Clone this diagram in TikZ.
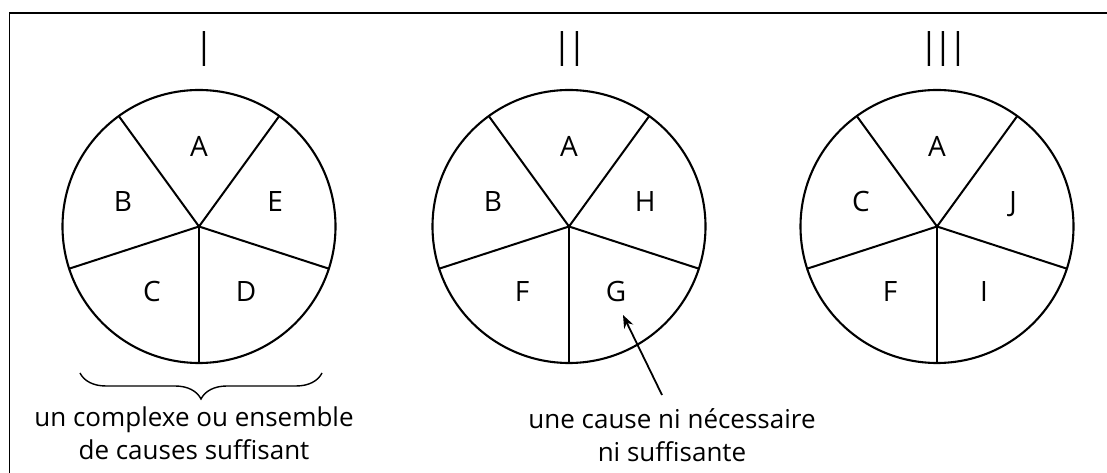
\documentclass[tikz,border=0pt]{standalone}
\usepackage{fontspec}
\setmainfont{Open Sans}
\newfontfamily\numfont[LetterSpace=24]{Open Sans}
\usetikzlibrary{arrows.meta,decorations.pathreplacing}
\begin{document}
\begin{tikzpicture}[x=1pt,y=1pt,
  rim/.style={line width=2.1pt},
  spoke/.style={line width=2pt},
  lab/.style={inner sep=0pt,text height=20pt,text depth=0pt,font=\fontsize{28}{32}\selectfont},
  numlab/.style={inner sep=0pt,font=\numfont\fontsize{28}{32}\selectfont},
  captext/.style={inner sep=0pt,align=center,anchor=base,font=\fontsize{26}{33}\selectfont}
]
\useasboundingbox (0,0) rectangle (1107,473);
\coordinate (f0) at (9.5,0);
\coordinate (f1) at (9.5,460);
\coordinate (f2) at (1107,460);
\draw[line width=1.5pt] (f0) -- (f1) -- (f2);

\foreach \n/\cx/\la/\lb/\lc/\ld/\le in {1/199/A/B/C/D/E, 2/569/A/B/F/G/H, 3/937/A/C/F/I/J}{
  \coordinate (c\n) at (\cx,246.5);
  \draw[rim] (c\n) circle[radius=136.5];
  \foreach \a in {54,126,198,270,342}{
    \draw[spoke] (c\n) -- ++(\a:136.5);
  }
  \node[lab] (l\n a) at ([shift={(90:80)}]c\n) {\la};
  \node[lab] (l\n b) at ([shift={(162:80)}]c\n) {\lb};
  \node[lab] (l\n c) at ([shift={(234:80)}]c\n) {\lc};
  \node[lab] (l\n d) at ([shift={(306:80)}]c\n) {\ld};
  \node[lab] (l\n e) at ([shift={(18:80)}]c\n) {\le};
}

\node[numlab] (n1) at (204,423.5) {\scalebox{1}[1.75]{I}};
\node[numlab] (n2) at (570,423.5) {\scalebox{1}[1.75]{II}};
\node[numlab] (n3) at (943.5,423.5) {\scalebox{1}[1.75]{III}};

\coordinate (b0) at (80,100);
\coordinate (b1) at (322,100);
\draw[line width=1.4pt,decorate,decoration={brace,mirror,amplitude=26pt}] (b0) -- (b1);

\node[captext] (t1) at (194,13) {un complexe ou ensemble\\de causes suffisant};
\node[captext] (t2) at (672,11) {une cause ni nécessaire\\ni suffisante};

\coordinate (arrtail) at (662,78);
\coordinate (arrtip) at (623,158);
\draw[line width=1.8pt,-{Stealth[length=13pt,width=10pt]}] (arrtail) -- (arrtip);
\end{tikzpicture}
\end{document}
